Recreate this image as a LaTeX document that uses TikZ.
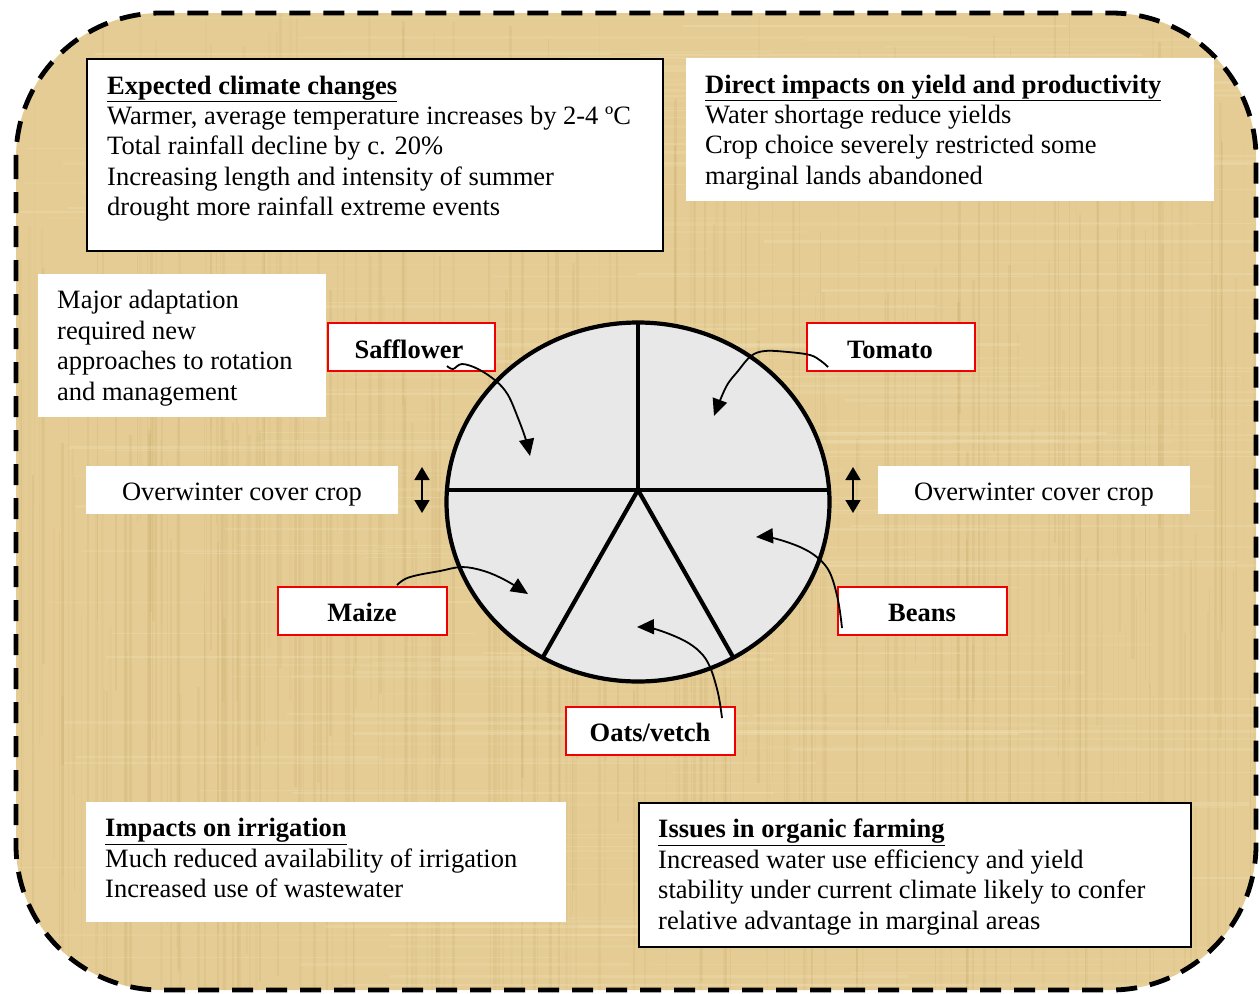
\documentclass[tikz,border=0pt]{standalone}
\usepackage{fontspec}
\setmainfont{Liberation Serif}
\usetikzlibrary{arrows.meta}

\definecolor{papyrus}{RGB}{228,204,148}
\definecolor{papyrusdark}{RGB}{198,168,104}
\definecolor{papyruslight}{RGB}{245,230,188}
\definecolor{piefill}{RGB}{232,232,232}
\definecolor{labelred}{RGB}{240,0,0}

\newcommand{\headline}[1]{\underline{\textbf{#1}}}

\tikzset{
  x=1pt, y=-1pt,
  every node/.style={font=\fontsize{26.5}{30.4}\selectfont, inner sep=0pt},
  plainbox/.style={rectangle, fill=white, anchor=north west},
  framedbox/.style={plainbox, draw=black, line width=1.8pt},
  cropbox/.style={plainbox, draw=labelred, line width=2.4pt},
  % multi-line texts are placed by the baseline of their last line
  bodytext/.style={anchor=base west, align=left},
  croptext/.style={anchor=base, font=\fontsize{26.5}{30.4}\selectfont\bfseries},
  pointer/.style={line width=1.8pt, -{Triangle[length=17pt,width=15pt]}},
  swap/.style={line width=1.8pt, {Triangle[length=13pt,width=15pt]}-{Triangle[length=13pt,width=15pt]}},
  pieline/.style={line width=4.2pt},
}

\begin{document}
\begin{tikzpicture}
\useasboundingbox (0,0) rectangle (1260,993);

% papyrus background inside the dashed frame
\begin{scope}
  \clip[rounded corners=145pt] (16,13) rectangle (1256,990);
  \fill[papyrus] (0,0) rectangle (1260,993);
  \pgfmathsetseed{4242}
  \foreach \i in {1,...,320}{
    \pgfmathsetmacro{\xx}{rnd*1260}
    \pgfmathsetmacro{\ww}{0.8+rnd*2.5}
    \pgfmathsetmacro{\oo}{0.06+rnd*0.16}
    \pgfmathsetmacro{\ya}{rnd*700}
    \draw[papyrusdark, opacity=\oo, line width=\ww pt] (\xx,\ya) -- (\xx,\ya+300+rnd*400);
  }
  \foreach \i in {1,...,220}{
    \pgfmathsetmacro{\yy}{rnd*993}
    \pgfmathsetmacro{\ww}{0.8+rnd*2.5}
    \pgfmathsetmacro{\oo}{0.08+rnd*0.2}
    \pgfmathsetmacro{\xa}{rnd*900}
    \draw[papyruslight, opacity=\oo, line width=\ww pt] (\xa,\yy) -- (\xa+300+rnd*500,\yy);
  }
\end{scope}
\draw[line width=4.8pt, dash pattern=on 21pt off 13pt, rounded corners=145pt]
  (16,13) rectangle (1256,990);

% ---- text panels ----
\node[framedbox, minimum width=576pt, minimum height=192pt] (climbox) at (86,58) {};
\node[bodytext] (climtext) at (107,215.6) {\headline{Expected climate changes}\\
  Warmer, average temperature increases by 2-4 ºC\\
  Total rainfall decline by c. 20\%\\
  Increasing length and intensity of summer\\
  drought more rainfall extreme events};

\node[plainbox, minimum width=528pt, minimum height=143pt] (yieldbox) at (686,58) {};
\node[bodytext] (yieldtext) at (705,184.2) {\headline{Direct impacts on yield and productivity}\\
  Water shortage reduce yields\\
  Crop choice severely restricted some\\
  marginal lands abandoned};

\node[plainbox, minimum width=288pt, minimum height=143pt] (adaptbox) at (38,274) {};
\node[bodytext] (adapttext) at (57,400) {Major adaptation\\
  required new\\
  approaches to rotation\\
  and management};

\node[plainbox, minimum width=480pt, minimum height=120pt] (irrbox) at (86,802) {};
\node[bodytext] (irrtext) at (105,897.5) {\headline{Impacts on irrigation}\\
  Much reduced availability of irrigation\\
  Increased use of wastewater};

\node[framedbox, minimum width=552pt, minimum height=144pt] (orgbox) at (638,802) {};
\node[bodytext] (orgtext) at (658,929) {\headline{Issues in organic farming}\\
  Increased water use efficiency and yield\\
  stability under current climate likely to confer\\
  relative advantage in marginal areas};

% ---- cover crop notes ----
\node[plainbox, minimum width=312pt, minimum height=48pt] (coverL) at (86,466) {};
\node[anchor=base] (coverLtext) at (242,500) {Overwinter cover crop};
\node[plainbox, minimum width=312pt, minimum height=48pt] (coverR) at (878,466) {};
\node[anchor=base] (coverRtext) at (1034,500) {Overwinter cover crop};

\coordinate (swapLtop) at (422,467);
\coordinate (swapLbot) at (422,513);
\coordinate (swapRtop) at (853,467);
\coordinate (swapRbot) at (853,513);
\draw[swap] (swapLtop) -- (swapLbot);
\draw[swap] (swapRtop) -- (swapRbot);

% ---- rotation wheel ----
\coordinate (hub) at (638,490);
\coordinate (top) at (638,322);
\coordinate (west) at (447,490);
\coordinate (east) at (829,490);
\coordinate (sw) at (543,657);
\coordinate (se) at (733,657);
\filldraw[fill=piefill, pieline] (638,502) ellipse [x radius=191.5pt, y radius=179.5pt];
\draw[pieline] (top) -- (hub);
\draw[pieline] (west) -- (east);
\draw[pieline] (sw) -- (hub) -- (se);

% ---- crop labels ----
\node[cropbox, minimum width=167pt, minimum height=48pt] (saff) at (327,322) {};
\node[croptext] (safftext) at (409,358) {Safflower};
\node[cropbox, minimum width=168pt, minimum height=48pt] (tom) at (806,322) {};
\node[croptext] (tomtext) at (890,358) {Tomato};
\node[cropbox, minimum width=169pt, minimum height=48pt] (maize) at (277,586) {};
\node[croptext] (maizetext) at (362,621) {Maize};
\node[cropbox, minimum width=169pt, minimum height=48pt] (beans) at (837,586) {};
\node[croptext] (beanstext) at (922,621) {Beans};
\node[cropbox, minimum width=169pt, minimum height=48pt] (oats) at (565,706) {};
\node[croptext] (oatstext) at (650,741) {Oats/vetch};

% ---- pointers from labels into the wheel ----
\coordinate (saffA) at (447,366);
\coordinate (saffB) at (530,456);
\draw[pointer] plot[smooth, tension=0.6] coordinates
  {(saffA) (453,369) (462,364) (478,369) (496,381) (508,395) (518,418) (526,440) (saffB)};

\coordinate (tomA) at (828,367);
\coordinate (tomB) at (714,416);
\draw[pointer] plot[smooth, tension=0.6] coordinates
  {(tomA) (821,361) (810,355) (788,352) (765,351) (751,356) (738,371) (726,387) (tomB)};

\coordinate (maizeA) at (397,585);
\coordinate (maizeB) at (528,594);
\draw[pointer] plot[smooth, tension=0.6] coordinates
  {(maizeA) (405,579) (418,575) (440,571) (462,567) (484,571) (505,580) (maizeB)};

\coordinate (beansA) at (842,628);
\coordinate (beansB) at (756,537);
\draw[pointer] plot[smooth, tension=0.6] coordinates
  {(beansA) (838,600) (830,573) (818,558) (800,547) (773,538) (beansB)};

\coordinate (oatsA) at (722,718);
\coordinate (oatsB) at (637,627);
\draw[pointer] plot[smooth, tension=0.6] coordinates
  {(oatsA) (718,693) (710,667) (700,652) (683,640) (655,629) (oatsB)};
\end{tikzpicture}
\end{document}
